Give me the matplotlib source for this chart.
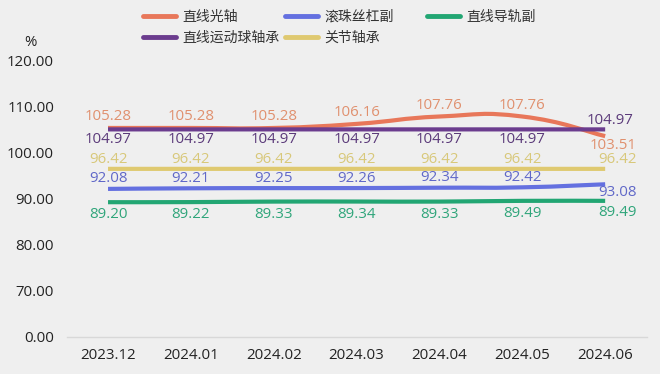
import matplotlib
matplotlib.use("Agg")
import matplotlib.pyplot as plt
from matplotlib.path import Path
from matplotlib.patches import PathPatch
from matplotlib.lines import Line2D
import numpy as np

plt.rcParams['font.family'] = ['Open Sans', 'Noto Sans CJK SC', 'DejaVu Sans']

months = ["2023.12", "2024.01", "2024.02", "2024.03", "2024.04", "2024.05", "2024.06"]
guangzhou = [105.28, 105.28, 105.28, 106.16, 107.76, 107.76, 103.51]
gunzhu = [92.08, 92.21, 92.25, 92.26, 92.34, 92.42, 93.08]
daogui = [89.20, 89.22, 89.33, 89.34, 89.33, 89.49, 89.49]
qiuzhoucheng = [104.97, 104.97, 104.97, 104.97, 104.97, 104.97, 104.97]
guanjie = [96.42, 96.42, 96.42, 96.42, 96.42, 96.42, 96.42]
ytick_vals = [60, 70, 80, 90, 100, 110, 120]
ytick_labels = ["0.00", "70.00", "80.00", "90.00", "100.00", "110.00", "120.00"]

series = [
    # name, values, line color, label color, label dy offsets (px), last-point dx (px), legend pos (px)
    ("直线光轴", guangzhou, "#e8775a", "#e0906e", [11, 11, 11, 11, 11, 11, -9], 8, (143, 17)),
    ("滚珠丝杠副", gunzhu, "#6470e0", "#6068c8", [10, 10, 10, 10, 10, 10, -8], 12, (285, 17)),
    ("直线导轨副", daogui, "#22a673", "#2fa57a", [-12.5] * 6 + [-12], 12, (427, 17)),
    ("直线运动球轴承", qiuzhoucheng, "#6b3c8e", "#5b3a7a", [-10.5] * 6 + [9], 5, (143, 38)),
    ("关节轴承", guanjie, "#dfc970", "#d8c87a", [9.5] * 6 + [9], 12, (285, 38)),
]

W, H = 660, 374
fig = plt.figure(figsize=(6.6, 3.74), dpi=100)
bg = "#efefef"
fig.patch.set_facecolor(bg)
ax = fig.add_axes([66.6 / W, 37 / H, 580 / W, 277 / H])
ax.set_facecolor(bg)

x = np.arange(len(months))


def smooth_path(xs, ys, smooth=0.5):
    pts = np.column_stack([xs, ys]).astype(float)
    n = len(pts)
    cps_in = []
    cps_out = []
    for i in range(n):
        prev = pts[i - 1] if i > 0 else pts[i]
        nxt = pts[i + 1] if i < n - 1 else pts[i]
        v = (nxt - prev) * smooth * 0.5
        cps_in.append(pts[i] - v)
        cps_out.append(pts[i] + v)
    verts = [pts[0]]
    codes = [Path.MOVETO]
    for i in range(n - 1):
        verts += [cps_out[i], cps_in[i + 1], pts[i + 1]]
        codes += [Path.CURVE4] * 3
    return Path(verts, codes)


for name, vals, lc, tc, offs, lastdx, (lx, ly) in series:
    p = smooth_path(x, vals)
    patch = PathPatch(p, fill=False, edgecolor=lc, lw=3.0, capstyle='butt', zorder=3)
    ax.add_patch(patch)
    for i, (xi, v) in enumerate(zip(x, vals)):
        dx = lastdx if i == len(x) - 1 else 0
        ax.annotate(f"{v:.2f}", (xi, v), xytext=(dx, offs[i]), textcoords="offset pixels",
                    ha="center", va="center", fontsize=10.8, color=tc, zorder=4)
    h = Line2D([0], [0], color=lc, lw=3.5, solid_capstyle='round')
    fig.legend([h], [name], loc="center left", bbox_to_anchor=(lx / W, 1 - ly / H),
               frameon=False, handlelength=2.4, handletextpad=0.45,
               borderpad=0, borderaxespad=0, labelcolor="#333333",
               prop={'family': ['Noto Sans CJK SC', 'DejaVu Sans'], 'size': 10})

ax.set_xlim(-0.5, len(months) - 0.5)
ax.set_ylim(60, 120)
ax.set_xticks(x)
ax.set_xticklabels(months, fontsize=10.8, color="#222222")
ax.set_yticks(ytick_vals)
ax.set_yticklabels(ytick_labels, fontsize=10.8, color="#222222")
ax.tick_params(axis="both", length=0)
ax.tick_params(axis="y", pad=9)
ax.tick_params(axis="x", pad=8)
for s in ["top", "right", "left"]:
    ax.spines[s].set_visible(False)
ax.spines["bottom"].set_color("#d8d8d8")
ax.spines["bottom"].set_linewidth(1)

fig.text(30 / W, 1 - 42 / H, "%", fontsize=10.8, color="#222222", ha="center", va="center")

fig.savefig("out.png", dpi=100, facecolor=bg)
